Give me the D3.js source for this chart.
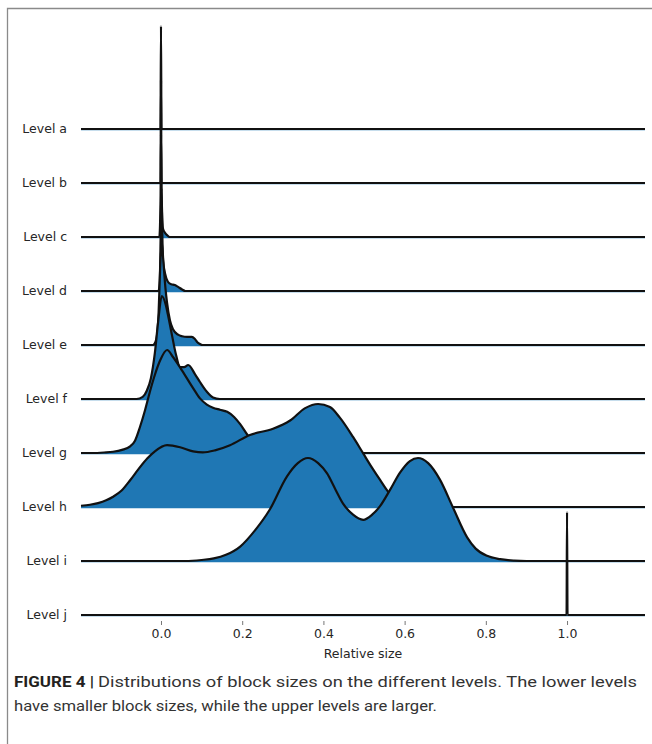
<!DOCTYPE html>
<html>
<head>
<meta charset="utf-8">
<script src="https://cdn.jsdelivr.net/npm/d3@7/dist/d3.min.js"></script>
<style>
  body { margin: 0; background: #fff; }
</style>
</head>
<body>
<script>
// level names, top to bottom
var levels = ['Level a', 'Level b', 'Level c', 'Level d', 'Level e',
              'Level f', 'Level g', 'Level h', 'Level i', 'Level j'];

var xTicks = [0.0, 0.2, 0.4, 0.6, 0.8, 1.0];

// density outlines: [relative size, density / ridge max]
var levelA = [[-0.0012, 0], [0, 1], [0.0012, 0]];
var levelB = [[-0.0012, 0], [0, 1], [0.0012, 0]];
var levelC = [[-0.004, 0], [-0.001, 0.4], [0, 1], [0.002, 0.35], [0.005, 0.08],
              [0.01, 0.04], [0.016, 0.015], [0.021, 0]];
var levelD = [[-0.006, 0], [-0.003, 0.1], [-0.001, 0.5], [0.001, 1], [0.003, 0.6],
              [0.005, 0.3], [0.01, 0.17], [0.017, 0.09], [0.025, 0.065], [0.034, 0.058],
              [0.042, 0.04], [0.052, 0.015], [0.06, 0]];
var levelE = [[-0.02, 0], [-0.012, 0.05], [-0.006, 0.3], [-0.002, 0.75], [0.002, 1],
              [0.006, 0.8], [0.011, 0.55], [0.015, 0.41], [0.022, 0.24], [0.03, 0.15],
              [0.042, 0.1], [0.052, 0.085], [0.064, 0.078], [0.076, 0.078], [0.083, 0.06],
              [0.089, 0.03], [0.096, 0.01], [0.102, 0]];
var levelF = [[-0.06, 0], [-0.045, 0.02], [-0.035, 0.08], [-0.025, 0.2], [-0.015, 0.45],
              [-0.007, 0.75], [0.002, 1], [0.012, 0.91], [0.017, 0.82], [0.027, 0.62],
              [0.037, 0.43], [0.047, 0.31], [0.057, 0.31], [0.067, 0.33], [0.084, 0.24],
              [0.096, 0.165], [0.113, 0.07], [0.128, 0.015], [0.145, 0]];
var levelG = [[-0.17, 0], [-0.14, 0.005], [-0.118, 0.012], [-0.096, 0.03], [-0.076, 0.065],
              [-0.064, 0.12], [-0.052, 0.25], [-0.039, 0.42], [-0.027, 0.6], [-0.015, 0.76],
              [-0.002, 0.9], [0.015, 1.0], [0.03, 0.93], [0.052, 0.8], [0.079, 0.63],
              [0.096, 0.53], [0.113, 0.47], [0.128, 0.44], [0.145, 0.42], [0.163, 0.4],
              [0.18, 0.35], [0.195, 0.28], [0.214, 0.17], [0.24, 0.08], [0.28, 0.03],
              [0.33, 0.01], [0.38, 0]];
var levelH = [[-0.197, 0.012], [-0.175, 0.022], [-0.155, 0.038], [-0.135, 0.065], [-0.118, 0.1],
              [-0.097, 0.16], [-0.076, 0.26], [-0.055, 0.37], [-0.034, 0.47], [-0.015, 0.54],
              [0.015, 0.6], [0.047, 0.58], [0.079, 0.54], [0.103, 0.53], [0.133, 0.55],
              [0.17, 0.6], [0.219, 0.7], [0.276, 0.76], [0.318, 0.84], [0.355, 0.96],
              [0.387, 1.0], [0.416, 0.97], [0.44, 0.87], [0.473, 0.68], [0.498, 0.52],
              [0.52, 0.38], [0.54, 0.26], [0.559, 0.15], [0.58, 0.07], [0.6, 0.03],
              [0.63, 0.005], [0.66, 0]];
var levelI = [[0.06, 0], [0.1, 0.01], [0.13, 0.025], [0.16, 0.06], [0.195, 0.14],
              [0.232, 0.3], [0.268, 0.5], [0.31, 0.82], [0.337, 0.95], [0.362, 1.0],
              [0.387, 0.95], [0.409, 0.85], [0.429, 0.7], [0.448, 0.56], [0.473, 0.45],
              [0.498, 0.4], [0.52, 0.45], [0.539, 0.53], [0.564, 0.69], [0.589, 0.86],
              [0.613, 0.97], [0.633, 1.0], [0.658, 0.95], [0.687, 0.79], [0.719, 0.52],
              [0.754, 0.23], [0.775, 0.12], [0.803, 0.05], [0.835, 0.018], [0.87, 0.004],
              [0.9, 0]];
var levelJ = [[0.9988, 0], [1.0, 1], [1.0012, 0]];

var densities = [levelA, levelB, levelC, levelD, levelE, levelF, levelG, levelH, levelI, levelJ];

var captionBold = 'FIGURE 4 |';
var captionLine1 = 'Distributions of block sizes on the different levels. The lower levels';
var captionLine2 = 'have smaller block sizes, while the upper levels are larger.';

var svgWidth = 652;
var svgHeight = 744;
var xDomain = [-0.197, 1.192];

var svg = d3.select('body')
  .append('svg')
  .attr('width', svgWidth)
  .attr('height', svgHeight)
  .style('display', 'block');

svg.append('rect')
  .attr('width', svgWidth)
  .attr('height', svgHeight)
  .attr('fill', '#fff');

// figure frame (left and top edge)
svg.append('path')
  .attr('d', 'M7.5,' + svgHeight + 'V8.5H' + svgWidth)
  .attr('fill', 'none')
  .attr('stroke', '#8a8a8a')
  .attr('stroke-width', 1.3);

var x = d3.scaleLinear().domain(xDomain).range([81, 645]);
var y = d3.scalePoint().domain(levels).range([129, 615]);
var h = d3.scaleLinear().domain([0, 1]).range([0, 103]);

// draw ridges top to bottom so lower levels sit on top
levels.forEach(function(name, i) {
  var base = y(name);
  var pts = densities[i].slice();
  if (pts[0][0] > xDomain[0]) pts.unshift([xDomain[0], 0]);
  pts.push([xDomain[1], 0]);

  var area = d3.area()
    .x(function(d) { return x(d[0]); })
    .y0(base + 1.2)
    .y1(function(d) { return base - h(d[1]); })
    .curve(d3.curveMonotoneX);

  var line = d3.line()
    .x(function(d) { return x(d[0]); })
    .y(function(d) { return base - h(d[1]); })
    .curve(d3.curveMonotoneX);

  var g = svg.append('g').attr('class', 'ridge');
  g.append('path')
    .attr('d', area(pts))
    .attr('fill', '#1f77b4');
  g.append('path')
    .attr('d', line(pts))
    .attr('fill', 'none')
    .attr('stroke', '#111')
    .attr('stroke-width', 2.2)
    .attr('stroke-linejoin', 'round');

  svg.append('text')
    .attr('x', 67)
    .attr('y', base)
    .attr('dy', '0.32em')
    .attr('text-anchor', 'end')
    .attr('font-family', 'DejaVu Sans')
    .attr('font-size', 12.5)
    .attr('fill', '#262626')
    .text(name);
});

// x axis
var axis = svg.append('g')
  .attr('transform', 'translate(0,621)')
  .call(d3.axisBottom(x).tickValues(xTicks).tickFormat(d3.format('.1f')).tickSize(4).tickPadding(4));
axis.select('.domain').remove();
axis.selectAll('line').attr('stroke', '#777');
axis.selectAll('text')
  .attr('font-family', 'DejaVu Sans')
  .attr('font-size', 12.5)
  .attr('fill', '#262626');

svg.append('text')
  .attr('x', 363)
  .attr('y', 658)
  .attr('text-anchor', 'middle')
  .attr('font-family', 'DejaVu Sans')
  .attr('font-size', 12.5)
  .attr('fill', '#262626')
  .text('Relative size');

// caption
var capFont = "'Liberation Sans Narrow', 'Roboto', 'Liberation Sans', sans-serif";

svg.append('text')
  .attr('x', 14)
  .attr('y', 687)
  .attr('font-family', capFont)
  .attr('font-size', 15.5)
  .attr('font-weight', 'bold')
  .attr('fill', '#231f20')
  .attr('textLength', 80)
  .attr('lengthAdjust', 'spacingAndGlyphs')
  .text(captionBold);

svg.append('text')
  .attr('x', 98)
  .attr('y', 687)
  .attr('font-family', capFont)
  .attr('font-size', 15.5)
  .attr('fill', '#333')
  .attr('textLength', 539)
  .attr('lengthAdjust', 'spacingAndGlyphs')
  .text(captionLine1);

svg.append('text')
  .attr('x', 14)
  .attr('y', 711)
  .attr('font-family', capFont)
  .attr('font-size', 15.5)
  .attr('fill', '#333')
  .attr('textLength', 423)
  .attr('lengthAdjust', 'spacingAndGlyphs')
  .text(captionLine2);
</script>
</body>
</html>
